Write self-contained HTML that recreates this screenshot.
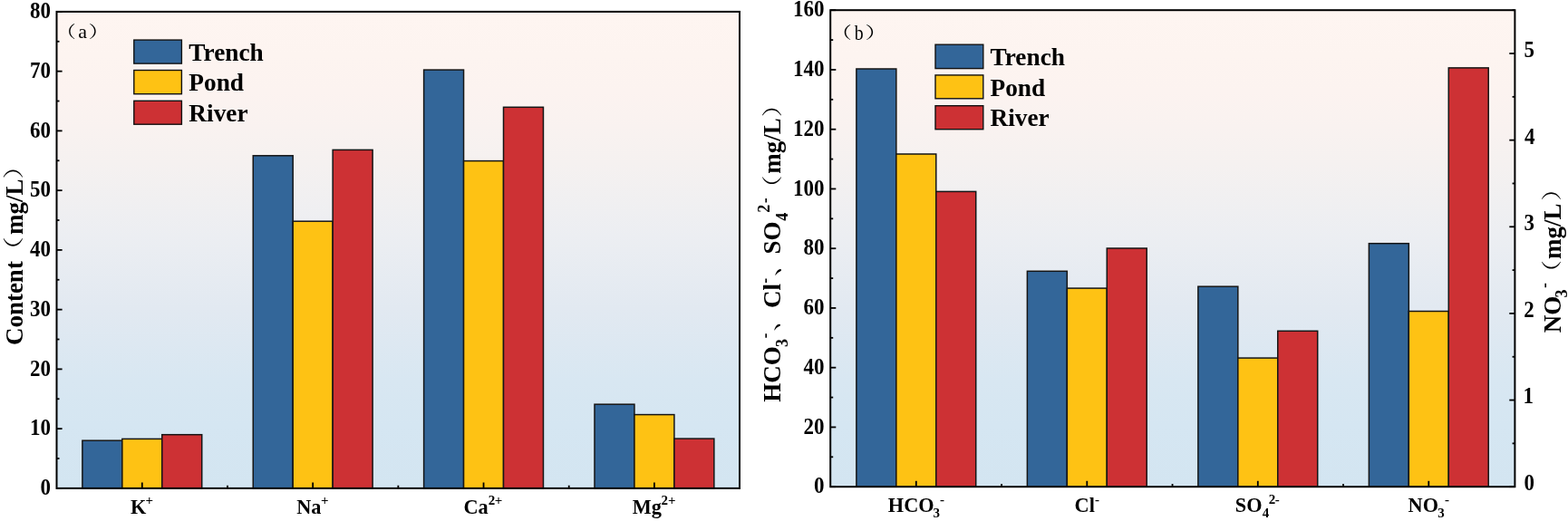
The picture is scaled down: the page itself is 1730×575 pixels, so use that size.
<!DOCTYPE html><html><head><meta charset="utf-8"><title>Ion content chart</title>
<style>html,body{margin:0;padding:0;background:#fff;overflow:hidden}svg{display:block}</style></head><body>
<svg width="1730" height="575" viewBox="0 0 1730 575">
<defs>
<linearGradient id="ga" gradientUnits="userSpaceOnUse" x1="0" y1="12.9" x2="0" y2="538.9"><stop offset="0.0000" stop-color="#fef5f1"/><stop offset="0.0895" stop-color="#fdf4f0"/><stop offset="0.1656" stop-color="#fcf3f0"/><stop offset="0.2416" stop-color="#f9f2f0"/><stop offset="0.3177" stop-color="#f5f1f0"/><stop offset="0.4698" stop-color="#eceef2"/><stop offset="0.6219" stop-color="#e2e9f1"/><stop offset="0.7740" stop-color="#d8e7f2"/><stop offset="0.8690" stop-color="#d5e6f2"/><stop offset="1.0000" stop-color="#d3e5f1"/></linearGradient>
<linearGradient id="gb" gradientUnits="userSpaceOnUse" x1="0" y1="11.2" x2="0" y2="537.2"><stop offset="0.0000" stop-color="#fef5f1"/><stop offset="0.0928" stop-color="#fdf4f0"/><stop offset="0.1688" stop-color="#fcf3f0"/><stop offset="0.2449" stop-color="#f9f2f0"/><stop offset="0.3209" stop-color="#f5f1f0"/><stop offset="0.4730" stop-color="#eceef2"/><stop offset="0.6251" stop-color="#e2e9f1"/><stop offset="0.7772" stop-color="#d8e7f2"/><stop offset="0.8722" stop-color="#d5e6f2"/><stop offset="1.0000" stop-color="#d3e5f1"/></linearGradient>
</defs>
<rect width="1730" height="575" fill="#fff"/>
<rect x="62.5" y="12.9" width="753.50" height="526.00" fill="url(#ga)"/>
<rect x="916.2" y="11.2" width="755.20" height="526.00" fill="url(#gb)"/>
<rect x="90.88" y="486.20" width="43.95" height="52.70" fill="#336699" stroke="#151515" stroke-width="1.5"/>
<rect x="134.83" y="484.40" width="43.95" height="54.50" fill="#fec214" stroke="#151515" stroke-width="1.5"/>
<rect x="178.78" y="479.70" width="43.95" height="59.20" fill="#cd3134" stroke="#151515" stroke-width="1.5"/>
<rect x="279.25" y="171.80" width="43.95" height="367.10" fill="#336699" stroke="#151515" stroke-width="1.5"/>
<rect x="323.19" y="244.20" width="43.95" height="294.70" fill="#fec214" stroke="#151515" stroke-width="1.5"/>
<rect x="367.15" y="165.40" width="43.95" height="373.50" fill="#cd3134" stroke="#151515" stroke-width="1.5"/>
<rect x="467.61" y="77.10" width="43.95" height="461.80" fill="#336699" stroke="#151515" stroke-width="1.5"/>
<rect x="511.56" y="177.60" width="43.95" height="361.30" fill="#fec214" stroke="#151515" stroke-width="1.5"/>
<rect x="555.51" y="118.30" width="43.95" height="420.60" fill="#cd3134" stroke="#151515" stroke-width="1.5"/>
<rect x="655.99" y="446.20" width="43.95" height="92.70" fill="#336699" stroke="#151515" stroke-width="1.5"/>
<rect x="699.94" y="457.60" width="43.95" height="81.30" fill="#fec214" stroke="#151515" stroke-width="1.5"/>
<rect x="743.89" y="484.10" width="43.95" height="54.80" fill="#cd3134" stroke="#151515" stroke-width="1.5"/>
<rect x="944.88" y="76.00" width="43.95" height="461.20" fill="#336699" stroke="#151515" stroke-width="1.5"/>
<rect x="988.82" y="170.00" width="43.95" height="367.20" fill="#fec214" stroke="#151515" stroke-width="1.5"/>
<rect x="1032.77" y="211.40" width="43.95" height="325.80" fill="#cd3134" stroke="#151515" stroke-width="1.5"/>
<rect x="1133.38" y="299.30" width="43.95" height="237.90" fill="#336699" stroke="#151515" stroke-width="1.5"/>
<rect x="1177.33" y="318.10" width="43.95" height="219.10" fill="#fec214" stroke="#151515" stroke-width="1.5"/>
<rect x="1221.27" y="274.00" width="43.95" height="263.20" fill="#cd3134" stroke="#151515" stroke-width="1.5"/>
<rect x="1321.88" y="316.20" width="43.95" height="221.00" fill="#336699" stroke="#151515" stroke-width="1.5"/>
<rect x="1365.83" y="395.10" width="43.95" height="142.10" fill="#fec214" stroke="#151515" stroke-width="1.5"/>
<rect x="1409.77" y="365.30" width="43.95" height="171.90" fill="#cd3134" stroke="#151515" stroke-width="1.5"/>
<rect x="1510.38" y="268.70" width="43.95" height="268.50" fill="#336699" stroke="#151515" stroke-width="1.5"/>
<rect x="1554.33" y="343.50" width="43.95" height="193.70" fill="#fec214" stroke="#151515" stroke-width="1.5"/>
<rect x="1598.27" y="74.90" width="43.95" height="462.30" fill="#cd3134" stroke="#151515" stroke-width="1.5"/>
<line x1="62.50" y1="538.90" x2="68.60" y2="538.90" stroke="#000" stroke-width="1.8"/>
<line x1="62.50" y1="506.02" x2="65.50" y2="506.02" stroke="#000" stroke-width="1.8"/>
<line x1="62.50" y1="473.15" x2="68.60" y2="473.15" stroke="#000" stroke-width="1.8"/>
<line x1="62.50" y1="440.27" x2="65.50" y2="440.27" stroke="#000" stroke-width="1.8"/>
<line x1="62.50" y1="407.40" x2="68.60" y2="407.40" stroke="#000" stroke-width="1.8"/>
<line x1="62.50" y1="374.52" x2="65.50" y2="374.52" stroke="#000" stroke-width="1.8"/>
<line x1="62.50" y1="341.65" x2="68.60" y2="341.65" stroke="#000" stroke-width="1.8"/>
<line x1="62.50" y1="308.77" x2="65.50" y2="308.77" stroke="#000" stroke-width="1.8"/>
<line x1="62.50" y1="275.90" x2="68.60" y2="275.90" stroke="#000" stroke-width="1.8"/>
<line x1="62.50" y1="243.02" x2="65.50" y2="243.02" stroke="#000" stroke-width="1.8"/>
<line x1="62.50" y1="210.15" x2="68.60" y2="210.15" stroke="#000" stroke-width="1.8"/>
<line x1="62.50" y1="177.27" x2="65.50" y2="177.27" stroke="#000" stroke-width="1.8"/>
<line x1="62.50" y1="144.40" x2="68.60" y2="144.40" stroke="#000" stroke-width="1.8"/>
<line x1="62.50" y1="111.52" x2="65.50" y2="111.52" stroke="#000" stroke-width="1.8"/>
<line x1="62.50" y1="78.65" x2="68.60" y2="78.65" stroke="#000" stroke-width="1.8"/>
<line x1="62.50" y1="45.77" x2="65.50" y2="45.77" stroke="#000" stroke-width="1.8"/>
<line x1="62.50" y1="12.90" x2="68.60" y2="12.90" stroke="#000" stroke-width="1.8"/>
<line x1="916.20" y1="537.20" x2="922.30" y2="537.20" stroke="#000" stroke-width="1.8"/>
<line x1="916.20" y1="504.33" x2="919.20" y2="504.33" stroke="#000" stroke-width="1.8"/>
<line x1="916.20" y1="471.45" x2="922.30" y2="471.45" stroke="#000" stroke-width="1.8"/>
<line x1="916.20" y1="438.58" x2="919.20" y2="438.58" stroke="#000" stroke-width="1.8"/>
<line x1="916.20" y1="405.70" x2="922.30" y2="405.70" stroke="#000" stroke-width="1.8"/>
<line x1="916.20" y1="372.83" x2="919.20" y2="372.83" stroke="#000" stroke-width="1.8"/>
<line x1="916.20" y1="339.95" x2="922.30" y2="339.95" stroke="#000" stroke-width="1.8"/>
<line x1="916.20" y1="307.08" x2="919.20" y2="307.08" stroke="#000" stroke-width="1.8"/>
<line x1="916.20" y1="274.20" x2="922.30" y2="274.20" stroke="#000" stroke-width="1.8"/>
<line x1="916.20" y1="241.33" x2="919.20" y2="241.33" stroke="#000" stroke-width="1.8"/>
<line x1="916.20" y1="208.45" x2="922.30" y2="208.45" stroke="#000" stroke-width="1.8"/>
<line x1="916.20" y1="175.58" x2="919.20" y2="175.58" stroke="#000" stroke-width="1.8"/>
<line x1="916.20" y1="142.70" x2="922.30" y2="142.70" stroke="#000" stroke-width="1.8"/>
<line x1="916.20" y1="109.83" x2="919.20" y2="109.83" stroke="#000" stroke-width="1.8"/>
<line x1="916.20" y1="76.95" x2="922.30" y2="76.95" stroke="#000" stroke-width="1.8"/>
<line x1="916.20" y1="44.08" x2="919.20" y2="44.08" stroke="#000" stroke-width="1.8"/>
<line x1="916.20" y1="11.20" x2="922.30" y2="11.20" stroke="#000" stroke-width="1.8"/>
<line x1="1671.40" y1="537.20" x2="1665.30" y2="537.20" stroke="#000" stroke-width="1.8"/>
<line x1="1671.40" y1="489.38" x2="1668.60" y2="489.38" stroke="#000" stroke-width="1.8"/>
<line x1="1671.40" y1="441.56" x2="1665.30" y2="441.56" stroke="#000" stroke-width="1.8"/>
<line x1="1671.40" y1="393.75" x2="1668.60" y2="393.75" stroke="#000" stroke-width="1.8"/>
<line x1="1671.40" y1="345.93" x2="1665.30" y2="345.93" stroke="#000" stroke-width="1.8"/>
<line x1="1671.40" y1="298.11" x2="1668.60" y2="298.11" stroke="#000" stroke-width="1.8"/>
<line x1="1671.40" y1="250.29" x2="1665.30" y2="250.29" stroke="#000" stroke-width="1.8"/>
<line x1="1671.40" y1="202.47" x2="1668.60" y2="202.47" stroke="#000" stroke-width="1.8"/>
<line x1="1671.40" y1="154.65" x2="1665.30" y2="154.65" stroke="#000" stroke-width="1.8"/>
<line x1="1671.40" y1="106.84" x2="1668.60" y2="106.84" stroke="#000" stroke-width="1.8"/>
<line x1="1671.40" y1="59.02" x2="1665.30" y2="59.02" stroke="#000" stroke-width="1.8"/>
<line x1="1671.40" y1="11.20" x2="1668.60" y2="11.20" stroke="#000" stroke-width="1.8"/>
<line x1="156.80" y1="538.90" x2="156.80" y2="532.50" stroke="#000" stroke-width="1.8"/>
<line x1="345.17" y1="538.90" x2="345.17" y2="532.50" stroke="#000" stroke-width="1.8"/>
<line x1="533.54" y1="538.90" x2="533.54" y2="532.50" stroke="#000" stroke-width="1.8"/>
<line x1="721.91" y1="538.90" x2="721.91" y2="532.50" stroke="#000" stroke-width="1.8"/>
<line x1="250.99" y1="538.90" x2="250.99" y2="535.70" stroke="#000" stroke-width="1.8"/>
<line x1="439.36" y1="538.90" x2="439.36" y2="535.70" stroke="#000" stroke-width="1.8"/>
<line x1="627.73" y1="538.90" x2="627.73" y2="535.70" stroke="#000" stroke-width="1.8"/>
<line x1="1010.80" y1="537.20" x2="1010.80" y2="530.80" stroke="#000" stroke-width="1.8"/>
<line x1="1199.30" y1="537.20" x2="1199.30" y2="530.80" stroke="#000" stroke-width="1.8"/>
<line x1="1387.80" y1="537.20" x2="1387.80" y2="530.80" stroke="#000" stroke-width="1.8"/>
<line x1="1576.30" y1="537.20" x2="1576.30" y2="530.80" stroke="#000" stroke-width="1.8"/>
<line x1="1105.05" y1="537.20" x2="1105.05" y2="534.00" stroke="#000" stroke-width="1.8"/>
<line x1="1293.55" y1="537.20" x2="1293.55" y2="534.00" stroke="#000" stroke-width="1.8"/>
<line x1="1482.05" y1="537.20" x2="1482.05" y2="534.00" stroke="#000" stroke-width="1.8"/>
<rect x="62.5" y="12.9" width="753.50" height="526.00" fill="none" stroke="#000" stroke-width="2.0"/>
<rect x="916.2" y="11.2" width="755.20" height="526.00" fill="none" stroke="#000" stroke-width="2.0"/>
<text transform="translate(44.58,546.20) scale(1,1.05)" font-family="'Liberation Serif','Times New Roman',serif" font-weight="bold" font-size="23">0</text>
<text transform="translate(33.08,480.45) scale(1,1.05)" font-family="'Liberation Serif','Times New Roman',serif" font-weight="bold" font-size="23">10</text>
<text transform="translate(33.08,414.70) scale(1,1.05)" font-family="'Liberation Serif','Times New Roman',serif" font-weight="bold" font-size="23">20</text>
<text transform="translate(33.08,348.95) scale(1,1.05)" font-family="'Liberation Serif','Times New Roman',serif" font-weight="bold" font-size="23">30</text>
<text transform="translate(33.08,283.20) scale(1,1.05)" font-family="'Liberation Serif','Times New Roman',serif" font-weight="bold" font-size="23">40</text>
<text transform="translate(33.08,217.45) scale(1,1.05)" font-family="'Liberation Serif','Times New Roman',serif" font-weight="bold" font-size="23">50</text>
<text transform="translate(33.08,151.70) scale(1,1.05)" font-family="'Liberation Serif','Times New Roman',serif" font-weight="bold" font-size="23">60</text>
<text transform="translate(33.08,85.95) scale(1,1.05)" font-family="'Liberation Serif','Times New Roman',serif" font-weight="bold" font-size="23">70</text>
<text transform="translate(33.08,20.20) scale(1,1.05)" font-family="'Liberation Serif','Times New Roman',serif" font-weight="bold" font-size="23">80</text>
<text transform="translate(897.98,544.30) scale(1,1.05)" font-family="'Liberation Serif','Times New Roman',serif" font-weight="bold" font-size="23">0</text>
<text transform="translate(886.48,478.55) scale(1,1.05)" font-family="'Liberation Serif','Times New Roman',serif" font-weight="bold" font-size="23">20</text>
<text transform="translate(886.48,412.80) scale(1,1.05)" font-family="'Liberation Serif','Times New Roman',serif" font-weight="bold" font-size="23">40</text>
<text transform="translate(886.48,347.05) scale(1,1.05)" font-family="'Liberation Serif','Times New Roman',serif" font-weight="bold" font-size="23">60</text>
<text transform="translate(886.48,281.30) scale(1,1.05)" font-family="'Liberation Serif','Times New Roman',serif" font-weight="bold" font-size="23">80</text>
<text transform="translate(874.98,215.55) scale(1,1.05)" font-family="'Liberation Serif','Times New Roman',serif" font-weight="bold" font-size="23">100</text>
<text transform="translate(874.98,149.80) scale(1,1.05)" font-family="'Liberation Serif','Times New Roman',serif" font-weight="bold" font-size="23">120</text>
<text transform="translate(874.98,84.05) scale(1,1.05)" font-family="'Liberation Serif','Times New Roman',serif" font-weight="bold" font-size="23">140</text>
<text transform="translate(874.98,18.30) scale(1,1.05)" font-family="'Liberation Serif','Times New Roman',serif" font-weight="bold" font-size="23">160</text>
<text transform="translate(1681.42,541.10) scale(1,1.05)" font-family="'Liberation Serif','Times New Roman',serif" font-weight="bold" font-size="23">0</text>
<text transform="translate(1680.46,445.46) scale(1,1.05)" font-family="'Liberation Serif','Times New Roman',serif" font-weight="bold" font-size="23">1</text>
<text transform="translate(1681.33,349.83) scale(1,1.05)" font-family="'Liberation Serif','Times New Roman',serif" font-weight="bold" font-size="23">2</text>
<text transform="translate(1681.44,254.19) scale(1,1.05)" font-family="'Liberation Serif','Times New Roman',serif" font-weight="bold" font-size="23">3</text>
<text transform="translate(1681.99,158.55) scale(1,1.05)" font-family="'Liberation Serif','Times New Roman',serif" font-weight="bold" font-size="23">4</text>
<text transform="translate(1681.38,62.92) scale(1,1.05)" font-family="'Liberation Serif','Times New Roman',serif" font-weight="bold" font-size="23">5</text>
<rect x="147.80" y="44.10" width="52.60" height="26.00" fill="#336699" stroke="#111" stroke-width="1.4"/>
<rect x="147.80" y="77.50" width="52.60" height="26.20" fill="#fec214" stroke="#111" stroke-width="1.4"/>
<rect x="147.80" y="111.30" width="52.60" height="25.90" fill="#cd3134" stroke="#111" stroke-width="1.4"/>
<text x="208.37" y="66.80" font-family="'Liberation Serif','Times New Roman',serif" font-weight="bold" font-size="27.3">Trench</text>
<text x="208.33" y="100.00" font-family="'Liberation Serif','Times New Roman',serif" font-weight="bold" font-size="27.3">Pond</text>
<text x="208.33" y="133.80" font-family="'Liberation Serif','Times New Roman',serif" font-weight="bold" font-size="27.3">River</text>
<rect x="1032.00" y="49.20" width="52.80" height="26.40" fill="#336699" stroke="#111" stroke-width="1.4"/>
<rect x="1032.00" y="82.90" width="52.80" height="25.90" fill="#fec214" stroke="#111" stroke-width="1.4"/>
<rect x="1032.00" y="116.70" width="52.80" height="26.00" fill="#cd3134" stroke="#111" stroke-width="1.4"/>
<text x="1092.57" y="72.00" font-family="'Liberation Serif','Times New Roman',serif" font-weight="bold" font-size="27.3">Trench</text>
<text x="1092.53" y="106.00" font-family="'Liberation Serif','Times New Roman',serif" font-weight="bold" font-size="27.3">Pond</text>
<text x="1092.53" y="139.40" font-family="'Liberation Serif','Times New Roman',serif" font-weight="bold" font-size="27.3">River</text>
<text transform="translate(61.89,40.81) scale(1.201,1)" font-family="'Noto Serif CJK SC','Noto Serif CJK JP',serif" font-size="18.06">（</text>
<text x="86.13" y="42.00" font-family="'Liberation Serif','Times New Roman',serif" font-weight="normal" font-size="22">a</text>
<text transform="translate(97.77,40.81) scale(1.259,1)" font-family="'Noto Serif CJK SC','Noto Serif CJK JP',serif" font-size="18.06">）</text>
<text transform="translate(916.68,42.40) scale(1.271,1)" font-family="'Noto Serif CJK SC','Noto Serif CJK JP',serif" font-size="18.16">（</text>
<text transform="translate(942.70,43.6) scale(0.9,1.07)" font-family="'Liberation Serif','Times New Roman',serif" font-size="22">b</text>
<text transform="translate(954.44,42.40) scale(1.367,1)" font-family="'Noto Serif CJK SC','Noto Serif CJK JP',serif" font-size="18.16">）</text>
<text x="144.02" y="566.60" font-family="'Liberation Serif','Times New Roman',serif" font-weight="bold" font-size="22.3">K</text>
<text x="160.61" y="557.00" font-family="'Liberation Serif','Times New Roman',serif" font-weight="bold" font-size="15">+</text>
<text x="327.18" y="566.60" font-family="'Liberation Serif','Times New Roman',serif" font-weight="bold" font-size="22.3">Na</text>
<text x="354.11" y="557.00" font-family="'Liberation Serif','Times New Roman',serif" font-weight="bold" font-size="15">+</text>
<text x="511.51" y="566.60" font-family="'Liberation Serif','Times New Roman',serif" font-weight="bold" font-size="22.3">Ca</text>
<text x="538.77" y="557.00" font-family="'Liberation Serif','Times New Roman',serif" font-weight="bold" font-size="15">2</text>
<text x="545.81" y="557.00" font-family="'Liberation Serif','Times New Roman',serif" font-weight="bold" font-size="15">+</text>
<text x="697.82" y="566.60" font-family="'Liberation Serif','Times New Roman',serif" font-weight="bold" font-size="22.3">Mg</text>
<text x="729.57" y="557.00" font-family="'Liberation Serif','Times New Roman',serif" font-weight="bold" font-size="15">2</text>
<text x="736.91" y="557.00" font-family="'Liberation Serif','Times New Roman',serif" font-weight="bold" font-size="15">+</text>
<text x="979.82" y="565.30" font-family="'Liberation Serif','Times New Roman',serif" font-weight="bold" font-size="22.3">HCO</text>
<text x="1029.44" y="570.80" font-family="'Liberation Serif','Times New Roman',serif" font-weight="bold" font-size="15">3</text>
<text x="1036.95" y="555.70" font-family="'Liberation Serif','Times New Roman',serif" font-weight="bold" font-size="15">-</text>
<text x="1185.61" y="565.30" font-family="'Liberation Serif','Times New Roman',serif" font-weight="bold" font-size="22.3">Cl</text>
<text x="1208.05" y="555.70" font-family="'Liberation Serif','Times New Roman',serif" font-weight="bold" font-size="15">-</text>
<text x="1362.81" y="565.30" font-family="'Liberation Serif','Times New Roman',serif" font-weight="bold" font-size="22.3">SO</text>
<text x="1392.69" y="570.80" font-family="'Liberation Serif','Times New Roman',serif" font-weight="bold" font-size="15">4</text>
<text x="1399.87" y="555.70" font-family="'Liberation Serif','Times New Roman',serif" font-weight="bold" font-size="15">2</text>
<text x="1406.85" y="555.70" font-family="'Liberation Serif','Times New Roman',serif" font-weight="bold" font-size="15">-</text>
<text x="1553.58" y="565.30" font-family="'Liberation Serif','Times New Roman',serif" font-weight="bold" font-size="22.3">NO</text>
<text x="1586.34" y="570.80" font-family="'Liberation Serif','Times New Roman',serif" font-weight="bold" font-size="15">3</text>
<text x="1593.95" y="555.70" font-family="'Liberation Serif','Times New Roman',serif" font-weight="bold" font-size="15">-</text>
<text transform="translate(24.60,381.12) rotate(-90)" font-family="'Liberation Serif','Times New Roman',serif" font-weight="bold" font-size="27">Content</text>
<text transform="translate(22.80,291.83) rotate(-90) scale(1.352,1)" font-family="'Noto Serif CJK SC','Noto Serif CJK JP',serif" font-size="22.76">（</text>
<text transform="translate(24.60,259.03) rotate(-90)" font-family="'Liberation Serif','Times New Roman',serif" font-weight="bold" font-size="27">mg/L</text>
<text transform="translate(22.80,197.43) rotate(-90) scale(1.275,1)" font-family="'Noto Serif CJK SC','Noto Serif CJK JP',serif" font-size="22.76">）</text>
<text transform="translate(861.10,443.66) rotate(-90)" font-family="'Liberation Serif','Times New Roman',serif" font-weight="bold" font-size="27">HCO</text>
<text transform="translate(868.70,382.88) rotate(-90)" font-family="'Liberation Serif','Times New Roman',serif" font-weight="bold" font-size="18">3</text>
<text transform="translate(849.50,373.46) rotate(-90)" font-family="'Liberation Serif','Times New Roman',serif" font-weight="bold" font-size="18">-</text>
<text transform="translate(859.02,365.56) rotate(-90) scale(0.992,1)" font-family="'Noto Serif CJK SC','Noto Serif CJK JP',serif" font-size="27.31">、</text>
<text transform="translate(861.10,340.12) rotate(-90)" font-family="'Liberation Serif','Times New Roman',serif" font-weight="bold" font-size="27">Cl</text>
<text transform="translate(849.50,312.86) rotate(-90)" font-family="'Liberation Serif','Times New Roman',serif" font-weight="bold" font-size="18">-</text>
<text transform="translate(859.52,304.74) rotate(-90) scale(0.977,1)" font-family="'Noto Serif CJK SC','Noto Serif CJK JP',serif" font-size="27.31">、</text>
<text transform="translate(861.10,280.54) rotate(-90)" font-family="'Liberation Serif','Times New Roman',serif" font-weight="bold" font-size="27">SO</text>
<text transform="translate(868.70,243.75) rotate(-90)" font-family="'Liberation Serif','Times New Roman',serif" font-weight="bold" font-size="18">4</text>
<text transform="translate(848.90,234.66) rotate(-90)" font-family="'Liberation Serif','Times New Roman',serif" font-weight="bold" font-size="18">2</text>
<text transform="translate(849.50,224.16) rotate(-90)" font-family="'Liberation Serif','Times New Roman',serif" font-weight="bold" font-size="18">-</text>
<text transform="translate(860.03,220.75) rotate(-90) scale(1.216,1)" font-family="'Noto Serif CJK SC','Noto Serif CJK JP',serif" font-size="22.44">（</text>
<text transform="translate(861.10,191.63) rotate(-90)" font-family="'Liberation Serif','Times New Roman',serif" font-weight="bold" font-size="27">mg/L</text>
<text transform="translate(860.03,129.14) rotate(-90) scale(1.231,1)" font-family="'Noto Serif CJK SC','Noto Serif CJK JP',serif" font-size="22.44">）</text>
<text transform="translate(1722.30,367.31) rotate(-90)" font-family="'Liberation Serif','Times New Roman',serif" font-weight="bold" font-size="27">NO</text>
<text transform="translate(1729.10,328.38) rotate(-90)" font-family="'Liberation Serif','Times New Roman',serif" font-weight="bold" font-size="18">3</text>
<text transform="translate(1710.10,317.96) rotate(-90)" font-family="'Liberation Serif','Times New Roman',serif" font-weight="bold" font-size="18">-</text>
<text transform="translate(1720.04,314.35) rotate(-90) scale(1.221,1)" font-family="'Noto Serif CJK SC','Noto Serif CJK JP',serif" font-size="22.33">（</text>
<text transform="translate(1722.30,286.03) rotate(-90)" font-family="'Liberation Serif','Times New Roman',serif" font-weight="bold" font-size="27">mg/L</text>
<text transform="translate(1720.04,221.72) rotate(-90) scale(1.221,1)" font-family="'Noto Serif CJK SC','Noto Serif CJK JP',serif" font-size="22.33">）</text>
</svg></body></html>
